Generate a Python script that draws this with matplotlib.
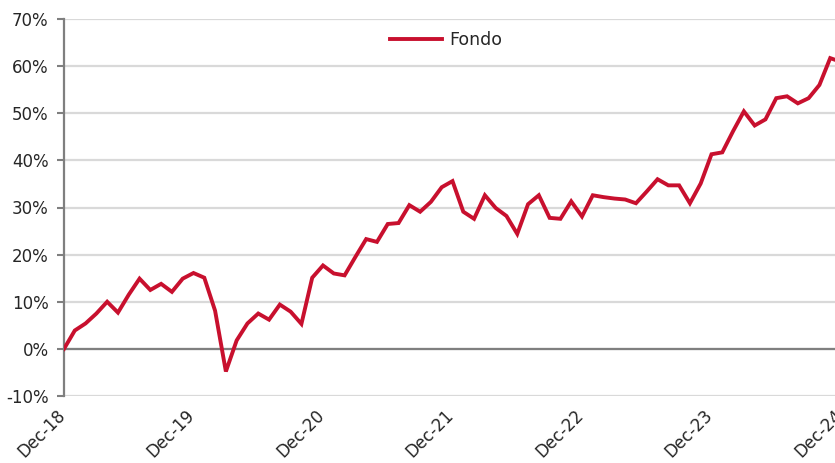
import matplotlib
matplotlib.use("Agg")
import matplotlib.pyplot as plt
import matplotlib.transforms as mtransforms
from matplotlib.ticker import PercentFormatter

# monthly fund return, Dec-18 .. Dec-24 (cumulative, %)
fondo = [
    0.0, 3.9, 5.4, 7.5, 10.0, 7.7, 11.5, 14.9, 12.5, 13.8, 12.1, 14.9,
    16.1, 15.1, 8.1, -4.8, 1.8, 5.4, 7.5, 6.2, 9.4, 7.9, 5.3, 15.1,
    17.7, 16.0, 15.6, 19.5, 23.3, 22.7, 26.5, 26.7, 30.5, 29.1, 31.2, 34.3,
    35.6, 29.1, 27.6, 32.6, 29.9, 28.2, 24.4, 30.7, 32.6, 27.8, 27.6, 31.3,
    28.1, 32.6, 32.2, 31.9, 31.7, 30.9, 33.4, 36.0, 34.7, 34.7, 30.9, 35.1,
    41.3, 41.7, 46.2, 50.4, 47.4, 48.7, 53.2, 53.6, 52.1, 53.2, 56.0, 61.7,
    60.9,
]
tick_labels = ["Dec-18", "Dec-19", "Dec-20", "Dec-21", "Dec-22", "Dec-23", "Dec-24"]
tick_pos = [0, 12, 24, 36, 48, 60, 72]

plt.rcParams['font.family'] = ['DejaVu Sans']
plt.rcParams['axes.unicode_minus'] = False

fig = plt.figure(figsize=(8.35, 4.63), dpi=100)
# the original is cropped on the right, so the axes runs slightly past the edge
ax = fig.add_axes([64/835, 1-396/463, 777/835, 377/463])

ax.plot(range(len(fondo)), fondo, color='#C8102E', lw=2.8, label='Fondo',
        solid_joinstyle='miter', zorder=3)

ax.set_xlim(0, 72)
ax.set_ylim(-10, 70)
ax.set_yticks(range(-10, 71, 10))
ax.yaxis.set_major_formatter(PercentFormatter(decimals=0))
ax.grid(axis='y', color='#d9d9d9', lw=1.6, zorder=0)
ax.axhline(0, color='#7f7f7f', lw=1.6, zorder=2)

ax.set_xticks(tick_pos)
ax.set_xticklabels(tick_labels, rotation=45, ha='right', rotation_mode='anchor')
ax.tick_params(axis='x', length=0, pad=7, labelsize=12, labelcolor='#262626')
ax.tick_params(axis='y', length=5, width=1.5, color='#7f7f7f', pad=6,
               labelsize=12, labelcolor='#262626')
# nudge the rotated labels left so their end sits under the tick
shift = mtransforms.ScaledTranslation(-8/100, 0, fig.dpi_scale_trans)
for lab in ax.get_xticklabels():
    lab.set_transform(lab.get_transform() + shift)

for s in ['top', 'right', 'bottom']:
    ax.spines[s].set_visible(False)
ax.spines['left'].set_color('#7f7f7f')
ax.spines['left'].set_linewidth(1.6)

ax.legend(loc='upper center', bbox_to_anchor=(446/835, 1-15/463),
          bbox_transform=fig.transFigure, frameon=False, fontsize=12.5,
          handlelength=3.0, handletextpad=0.4, labelcolor='#262626')

fig.savefig('out.png', dpi=100)
